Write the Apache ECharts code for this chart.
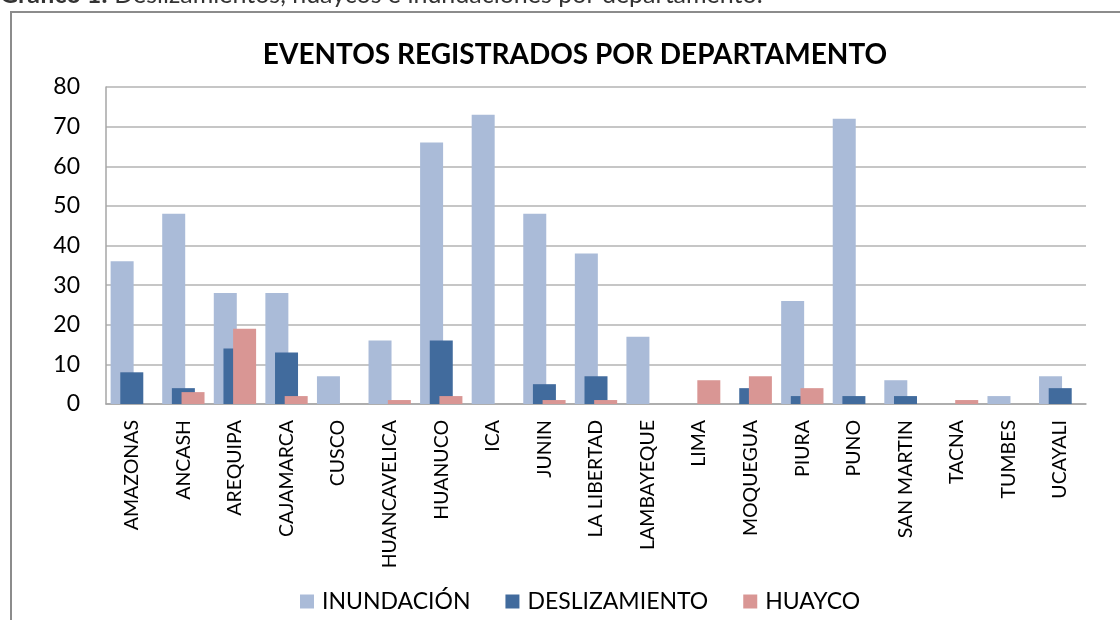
<!DOCTYPE html>
<html>
<head>
<meta charset="utf-8">
<script src="https://cdn.jsdelivr.net/npm/echarts@6/dist/echarts.min.js"></script>
<style>
  html, body { margin: 0; padding: 0; background: #fff; }
  #chart { width: 1120px; height: 620px; }
</style>
</head>
<body>
<div id="chart"></div>
<script>
// departamentos
var departamentos = ["AMAZONAS", "ANCASH", "AREQUIPA", "CAJAMARCA", "CUSCO", "HUANCAVELICA",
  "HUANUCO", "ICA", "JUNIN", "LA LIBERTAD", "LAMBAYEQUE", "LIMA", "MOQUEGUA", "PIURA",
  "PUNO", "SAN MARTIN", "TACNA", "TUMBES", "UCAYALI"];

var inundacion    = [36, 48, 28, 28, 7, 16, 66, 73, 48, 38, 17, 0, 0, 26, 72, 6, 0, 2, 7];
var deslizamiento = [8, 4, 14, 13, 0, 0, 16, 0, 5, 7, 0, 0, 4, 2, 2, 2, 0, 0, 4];
var huayco        = [0, 3, 19, 2, 0, 1, 2, 0, 1, 1, 0, 6, 7, 4, 0, 0, 1, 0, 0];

var fuente = "Lato, 'Open Sans', sans-serif";

var chart = echarts.init(document.getElementById("chart"));

function serie(name, data, color) {
  return {
    name: name,
    type: "bar",
    data: data,
    barWidth: 23,
    barGap: "-58%",
    itemStyle: { color: color },
    emphasis: { disabled: true },
  };
}

var option = {
  animation: false,
  backgroundColor: "#fff",
  title: {
    text: "EVENTOS REGISTRADOS POR DEPARTAMENTO",
    left: 570,
    textAlign: "center",
    top: 36,
    textStyle: {
      fontFamily: fuente,
      fontSize: 28,
      fontWeight: "bold",
      color: "#000",
    },
  },
  graphic: [
    {
      type: "rect",
      shape: { x: 11, y: 12, width: 1200, height: 700 },
      style: { fill: "none", stroke: "#8c8c8c", lineWidth: 2 },
      silent: true,
    },
    {
      type: "text",
      x: 0,
      y: 7,
      style: {
        text: "{b|Gráfico 1:} Deslizamientos, huaycos e inundaciones por departamento.",
        verticalAlign: "bottom",
        fontFamily: fuente,
        fontSize: 25,
        fill: "#333",
        rich: { b: { fontWeight: "bold", fontFamily: fuente, fontSize: 25, fill: "#333" } },
      },
      silent: true,
    },
  ],
  legend: {
    left: 295,
    top: 585,
    itemWidth: 14,
    itemHeight: 14,
    itemGap: 35,
    icon: "rect",
    textStyle: { fontFamily: fuente, fontSize: 23, color: "#000", padding: [0, 0, 0, 3] },
    data: ["INUNDACIÓN", "DESLIZAMIENTO", "HUAYCO"],
  },
  grid: {
    left: 106,
    right: 34,
    top: 87,
    bottom: 216,
  },
  xAxis: {
    type: "category",
    data: departamentos,
    axisTick: { show: false },
    axisLine: { lineStyle: { color: "#a6a6a6", width: 1.5 } },
    axisLabel: {
      interval: 0,
      rotate: 90,
      margin: 16,
      fontFamily: fuente,
      fontSize: 19.5,
      color: "#000",
    },
  },
  yAxis: {
    type: "value",
    min: 0,
    max: 80,
    interval: 10,
    axisLine: { show: true, lineStyle: { color: "#a6a6a6", width: 1.5 } },
    axisTick: { show: false },
    axisLabel: { fontFamily: fuente, fontSize: 23, color: "#000", margin: 26 },
    splitLine: { lineStyle: { color: "#b3b3b3", width: 1.5 } },
  },
  series: [
    serie("INUNDACIÓN", inundacion, "#aabbd8"),
    serie("DESLIZAMIENTO", deslizamiento, "#416b9d"),
    serie("HUAYCO", huayco, "#d99694"),
  ],
};

chart.setOption(option);
</script>
</body>
</html>
